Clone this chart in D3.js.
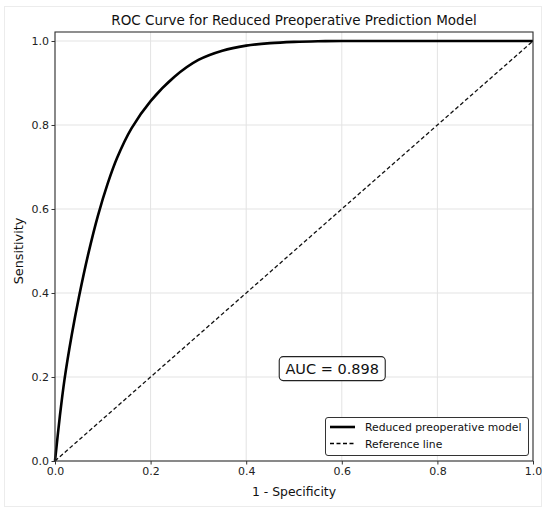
<!DOCTYPE html>
<html>
<head>
<meta charset="utf-8">
<script src="https://cdn.jsdelivr.net/npm/d3@7"></script>
<style>
  body { margin: 0; background: #fff; }
  svg { font-family: "DejaVu Sans", sans-serif; }
</style>
</head>
<body>
<svg id="chart" width="550" height="514"></svg>
<script>
// ROC points
const fpr = [0, 0.01, 0.02, 0.035, 0.05, 0.07, 0.09, 0.11, 0.13, 0.16, 0.2, 0.25, 0.3, 0.35, 0.4, 0.45, 0.5, 0.55, 0.6, 0.8, 1.0];
const tpr = [0, 0.105, 0.195, 0.3, 0.39, 0.495, 0.585, 0.66, 0.722, 0.792, 0.857, 0.915, 0.955, 0.977, 0.989, 0.995, 0.998, 0.9995, 1.0, 1.0, 1.0];
const refLine = [[0, 0], [1, 1]];
const ticks = [0, 0.2, 0.4, 0.6, 0.8, 1.0];
const aucText = 'AUC = 0.898';
const aucPos = [0.58, 0.22];
const legendNames = ['Reduced preoperative model', 'Reference line'];

const svg = d3.select('#chart');
const margin = {left: 55, right: 17, top: 32, bottom: 53};
const W = 550, H = 514;

// faint figure border
svg.append('rect')
  .attr('x', 4.5).attr('y', 6.5)
  .attr('width', 537).attr('height', 500)
  .attr('fill', 'none').attr('stroke', '#ececec').attr('stroke-width', 1);

const x = d3.scaleLinear().domain([0, 1]).range([margin.left, W - margin.right]);
const y = d3.scaleLinear().domain([0, 1.0214]).range([H - margin.bottom, margin.top]);

// grid
const grid = svg.append('g');
grid.selectAll('.gx').data(ticks).enter().append('line')
  .attr('x1', d => x(d)).attr('x2', d => x(d))
  .attr('y1', y.range()[0]).attr('y2', y.range()[1])
  .attr('stroke', '#e3e3e3').attr('stroke-width', 1);
grid.selectAll('.gy').data(ticks).enter().append('line')
  .attr('y1', d => y(d)).attr('y2', d => y(d))
  .attr('x1', x.range()[0]).attr('x2', x.range()[1])
  .attr('stroke', '#e3e3e3').attr('stroke-width', 1);

// reference line
svg.append('path')
  .datum(refLine)
  .attr('d', d3.line().x(d => x(d[0])).y(d => y(d[1])))
  .attr('fill', 'none').attr('stroke', '#111').attr('stroke-width', 1.3)
  .attr('stroke-dasharray', '4,2.5');

// ROC curve
svg.append('path')
  .datum(fpr.map((f, i) => [f, tpr[i]]))
  .attr('d', d3.line().x(d => x(d[0])).y(d => y(d[1])).curve(d3.curveCatmullRom.alpha(0.5)))
  .attr('fill', 'none').attr('stroke', '#000').attr('stroke-width', 2.6)
  .attr('stroke-linejoin', 'round');

// frame
svg.append('rect')
  .attr('x', x(0)).attr('y', margin.top)
  .attr('width', x(1) - x(0)).attr('height', y(0) - margin.top)
  .attr('fill', 'none').attr('stroke', '#333').attr('stroke-width', 1.1);

// axes
const xAxis = svg.append('g')
  .attr('transform', `translate(0,${y(0)})`)
  .call(d3.axisBottom(x).tickValues(ticks).tickFormat(d3.format('.1f')).tickSize(3.5).tickPadding(2.5));
const yAxis = svg.append('g')
  .attr('transform', `translate(${x(0)},0)`)
  .call(d3.axisLeft(y).tickValues(ticks).tickFormat(d3.format('.1f')).tickSize(3.5).tickPadding(2.5));
[xAxis, yAxis].forEach(a => {
  a.select('.domain').remove();
  a.selectAll('.tick line').attr('stroke', '#333');
  a.selectAll('.tick text').attr('fill', '#222').style('font-size', '11px').style('font-family', '"DejaVu Sans", sans-serif');
});

// titles
svg.append('text')
  .attr('x', (x(0) + x(1)) / 2).attr('y', 25)
  .attr('text-anchor', 'middle').attr('fill', '#111')
  .style('font-size', '13.5px')
  .text('ROC Curve for Reduced Preoperative Prediction Model');
svg.append('text')
  .attr('x', (x(0) + x(1)) / 2).attr('y', 496)
  .attr('text-anchor', 'middle').attr('fill', '#111')
  .style('font-size', '12.4px')
  .text('1 - Specificity');
svg.append('text')
  .attr('transform', `translate(23,${(y(0) + y(1)) / 2}) rotate(-90)`)
  .attr('text-anchor', 'middle').attr('fill', '#111')
  .style('font-size', '12.8px')
  .text('Sensitivity');

// AUC box
const auc = svg.append('g');
auc.append('rect')
  .attr('x', x(aucPos[0]) - 53).attr('y', y(aucPos[1]) - 12)
  .attr('width', 106).attr('height', 24).attr('rx', 4)
  .attr('fill', '#fff').attr('stroke', '#222').attr('stroke-width', 1.1);
auc.append('text')
  .attr('x', x(aucPos[0])).attr('y', y(aucPos[1]) + 5.2)
  .attr('text-anchor', 'middle').attr('fill', '#111')
  .style('font-size', '14.5px')
  .text(aucText);

// legend
const lg = svg.append('g').attr('transform', 'translate(325,417)');
lg.append('rect')
  .attr('x', 0.5).attr('y', 0.5).attr('width', 203).attr('height', 38).attr('rx', 2.5)
  .attr('fill', '#fff').attr('stroke', '#333').attr('stroke-width', 1);
lg.selectAll('.item').data(legendNames).enter().append('g')
  .attr('transform', (d, i) => `translate(0,${10 + i * 16.5})`)
  .each(function (d, i) {
    const g = d3.select(this);
    g.append('line')
      .attr('x1', 5).attr('x2', 30).attr('y1', 0).attr('y2', 0)
      .attr('stroke', '#000')
      .attr('stroke-width', i === 0 ? 2.6 : 1.3)
      .attr('stroke-dasharray', i === 0 ? null : '4,2.5');
    g.append('text')
      .attr('x', 40).attr('y', 4)
      .attr('fill', '#111').style('font-size', '10.8px')
      .text(d);
  });
</script>
</body>
</html>
